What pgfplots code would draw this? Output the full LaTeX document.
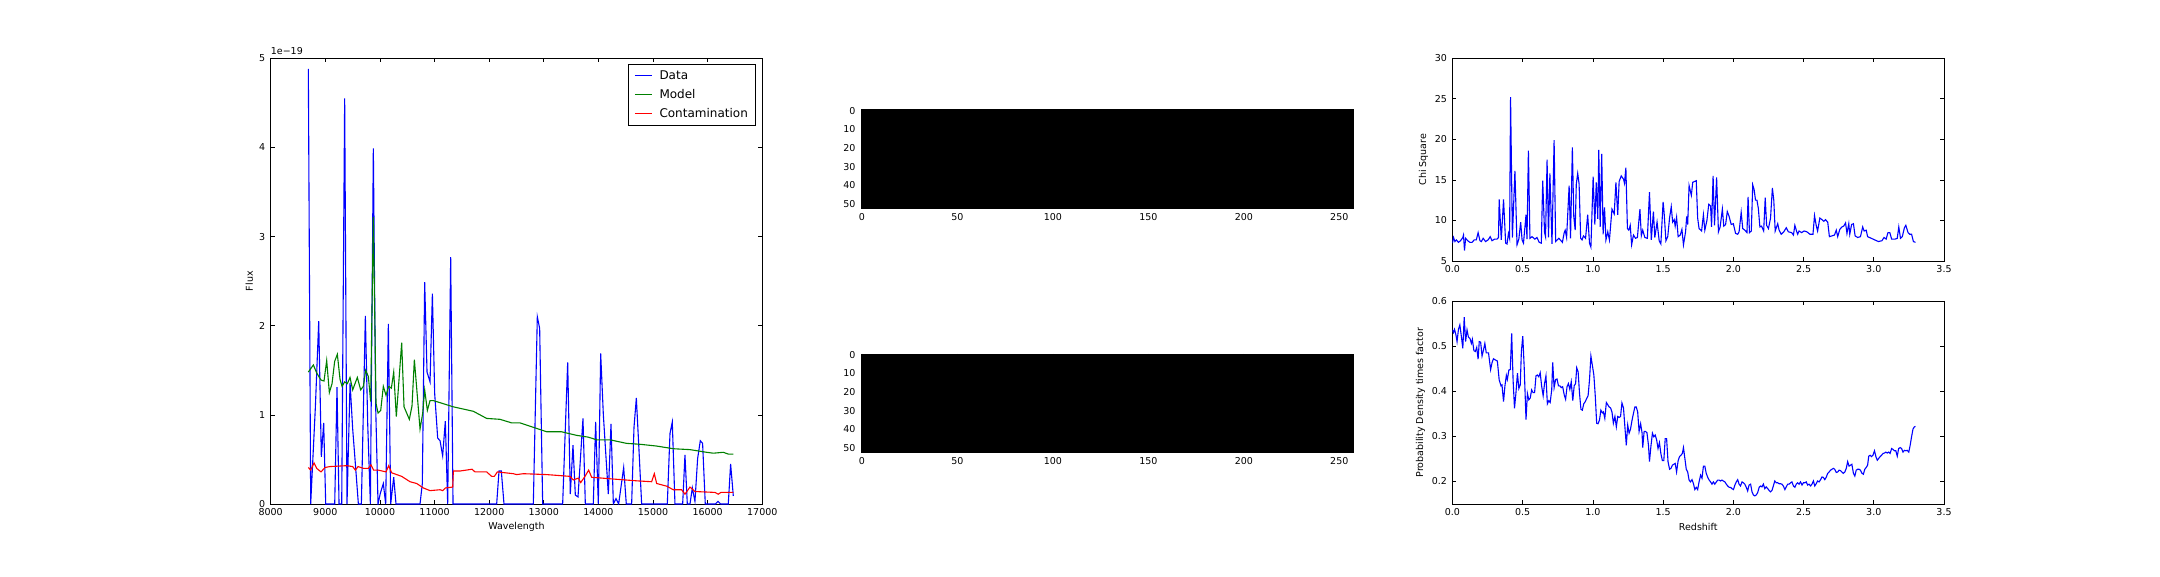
\documentclass[border=0pt]{standalone}
\usepackage{pgfplots}
\pgfplotsset{compat=1.18}
\usepackage{fontspec}
\setmainfont{DejaVu Sans}
\definecolor{mplblue}{rgb}{0,0,1}
\definecolor{mplgreen}{rgb}{0,0.5,0}
\definecolor{mplred}{rgb}{1,0,0}
\newcommand{\tf}{\fontsize{9.5}{11}\selectfont}
\pgfplotsset{
  mpl/.style={
    scale only axis,
    anchor=south west,
    axis line style={line width=0.9pt},
    tick align=inside,
    major tick length=4pt,
    every tick/.style={black, line width=0.7pt},
    /pgf/number format/assume math mode=true,
    ticklabel style={font=\tf},
    label style={font=\tf},
    xticklabel style={yshift=-1pt},
    yticklabel style={xshift=-2pt},
    every axis plot/.append style={line width=1.1pt},
  }
}
\begin{document}
\begin{tikzpicture}
\path[use as bounding box] (0,0) rectangle (2160pt,576pt);

% ---------------- Left: spectrum ----------------
\begin{axis}[mpl,
  at={(270.7pt,72pt)}, width=491.6pt, height=445.7pt,
  xmin=8000, xmax=17000, ymin=0, ymax=5,
  xtick={8000,9000,...,17000},
  ytick={0,1,2,3,4,5},
  scaled x ticks=false,
  xticklabel style={/pgf/number format/.cd, fixed, 1000 sep={}},
  xlabel={Wavelength}, ylabel={Flux},
  xlabel style={at={(axis description cs:0.5,-0.0516)}, anchor=center},
  ylabel style={at={(axis description cs:-0.0437,0.5)}, anchor=center},
  legend style={at={(1,1)}, anchor=north east, xshift=-6pt, yshift=-6pt,
    draw=black, line width=0.9pt, font=\fontsize{12}{14}\selectfont,
    row sep=4.5pt, inner xsep=6pt, inner ysep=4pt, cells={anchor=west},
    column sep=5pt},
  legend image code/.code={\draw[#1, line width=1.1pt] (0pt,0pt) -- (17pt,0pt);},
  after end axis/.code={\node[anchor=south west, inner sep=0pt, font=\tf] at (rel axis cs:0,1) [yshift=3pt] {1e−19};},
]
\addplot[mplblue] coordinates {
(8689,4.88) (8732,0) (8818,1.09) (8879,2.05) (8927,0.53) (8970,0.91) (9007,0)
(9172,0) (9214,1.31) (9251,0) (9300,0) (9354,4.55) (9397,0) (9453,1.36)
(9500,0.85) (9550,0.45) (9605,0) (9660,0) (9733,2.11) (9776,0.9) (9825,0)
(9879,3.99) (9922,1.09) (9965,0) (10007,0.12) (10062,0.23) (10105,0)
(10154,2.02) (10197,0) (10252,0.30) (10294,0) (10734,0) (10776,0.23)
(10819,2.49) (10862,1.48) (10917,1.37) (10960,2.36) (11002,1.24) (11057,0.74)
(11100,0.71) (11148,0.54) (11197,0.93) (11240,0) (11295,2.77) (11338,0)
(12137,0) (12180,0.37) (12222,0.37) (12271,0) (12808,0) (12881,2.10)
(12924,1.97) (12979,0) (13345,0) (13437,1.59) (13485,0.11) (13534,0.66)
(13577,0.10) (13626,0.08) (13717,0.96) (13760,0) (13906,0) (13949,0.92)
(13998,0) (14041,1.69) (14090,1.0) (14181,0.11) (14230,0.90) (14273,0)
(14321,0.06) (14370,0) (14462,0.41) (14510,0) (14608,0) (14651,0.86)
(14694,1.19) (14742,0.61) (14791,0) (15261,0) (15310,0.79) (15352,0.92)
(15401,0) (15542,0) (15584,0.55) (15627,0) (15676,0) (15719,0.18)
(15767,0.03) (15816,0.51) (15865,0.71) (15907,0.68) (15956,0) (16139,0)
(16188,0.03) (16237,0) (16377,0) (16420,0.45) (16469,0.09)
};
\addlegendentry{Data}
\addplot[mplgreen] coordinates {
(8689,1.48) (8781,1.56) (8842,1.47) (8921,1.39) (8976,1.38) (9025,1.61)
(9074,1.25) (9123,1.35) (9171,1.60) (9220,1.68) (9269,1.40) (9306,1.32)
(9354,1.37) (9403,1.35) (9452,1.42) (9501,1.28) (9586,1.42) (9647,1.28)
(9696,1.32) (9739,1.50) (9788,1.43) (9830,1.15) (9879,3.22) (9928,1.13)
(9965,1.02) (10014,1.05) (10062,1.32) (10111,1.22) (10160,1.32) (10209,1.30)
(10252,1.48) (10300,0.98) (10398,1.81) (10441,1.09) (10538,0.95) (10587,1.10)
(10630,1.62) (10734,0.84) (10783,1.02) (10819,1.28) (10868,1.05) (10917,1.16)
(10978,1.16) (11344,1.09) (11710,1.04) (11954,0.96) (12198,0.95) (12411,0.91)
(12564,0.91) (13052,0.81) (13327,0.81) (13601,0.77) (13815,0.75) (13968,0.72)
(14212,0.72) (14517,0.68) (14761,0.67) (15066,0.65) (15371,0.62) (15676,0.61)
(15980,0.58) (16103,0.57) (16286,0.58) (16377,0.56) (16469,0.56)
};
\addlegendentry{Model}
\addplot[mplred] coordinates {
(8689,0.41) (8732,0.38) (8793,0.46) (8842,0.40) (8921,0.36) (8995,0.41)
(9086,0.42) (9391,0.43) (9501,0.42) (9550,0.38) (9599,0.42) (9696,0.40)
(9788,0.40) (9836,0.44) (9885,0.38) (9971,0.38) (10111,0.36) (10160,0.43)
(10215,0.35) (10398,0.31) (10550,0.25) (10672,0.23) (10794,0.18) (10917,0.15)
(11100,0.16) (11148,0.15) (11197,0.18) (11332,0.19) (11344,0.37) (11466,0.37)
(11686,0.39) (11740,0.36) (11954,0.36) (12045,0.31) (12094,0.31) (12149,0.36)
(12442,0.34) (12503,0.33) (12625,0.34) (13052,0.33) (13479,0.31) (13540,0.27)
(13632,0.29) (13675,0.24) (13754,0.31) (13821,0.38) (13876,0.30) (14273,0.28)
(14700,0.26) (14974,0.25) (15023,0.34) (15066,0.23) (15249,0.20) (15371,0.16)
(15523,0.16) (15584,0.11) (15676,0.19) (15767,0.14) (16133,0.13) (16194,0.11)
(16243,0.13) (16469,0.13)
};
\addlegendentry{Contamination}
\end{axis}

% ---------------- Middle: images ----------------
\begin{axis}[mpl,
  at={(861pt,367.3pt)}, width=492.6pt, height=99pt,
  xmin=-0.5, xmax=257.5, ymin=-0.5, ymax=52.5, y dir=reverse,
  xtick={0,50,...,250}, ytick={0,10,...,50},
  axis on top,
]
\addplot[fill=black, draw=none] coordinates {(-0.5,-0.5) (257.5,-0.5) (257.5,52.5) (-0.5,52.5)};
\end{axis}
\begin{axis}[mpl,
  at={(861pt,123.5pt)}, width=492.6pt, height=98.5pt,
  xmin=-0.5, xmax=257.5, ymin=-0.5, ymax=52.5, y dir=reverse,
  xtick={0,50,...,250}, ytick={0,10,...,50},
  axis on top,
]
\addplot[fill=black, draw=none] coordinates {(-0.5,-0.5) (257.5,-0.5) (257.5,52.5) (-0.5,52.5)};
\end{axis}

% ---------------- Right top: chi square ----------------
\begin{axis}[mpl,
  at={(1452.4pt,315pt)}, width=491.6pt, height=202.7pt,
  xmin=0, xmax=3.5, ymin=5, ymax=30,
  xtick={0,0.5,...,3.5}, ytick={5,10,...,30},
  xticklabel style={/pgf/number format/.cd, fixed, fixed zerofill, precision=1},
  ylabel={Chi Square},
  ylabel style={at={(axis description cs:-0.059,0.5)}, anchor=center},
]
\addplot[mplblue] coordinates {
(0.000,7.2) (0.008,7.9) (0.018,7.4) (0.028,7.6) (0.043,7.3) (0.058,7.5)
(0.074,7.9) (0.079,8.2) (0.086,6.3) (0.094,7.8) (0.109,7.5) (0.125,7.3)
(0.140,7.3) (0.155,7.6) (0.170,7.6) (0.183,8.5) (0.196,7.5) (0.206,7.4)
(0.219,7.8) (0.236,7.4) (0.254,7.6) (0.269,8.0) (0.282,7.5) (0.300,7.7)
(0.318,7.7) (0.328,7.9)
(0.333,12.6) (0.348,7.6) (0.364,12.6) (0.379,7.2) (0.389,7.1) (0.399,8.4)
(0.407,7.8) (0.414,25.2) (0.427,7.9) (0.445,16.1) (0.460,7.0) (0.473,7.7)
(0.486,9.8) (0.496,7.6) (0.506,7.2) (0.524,10.7) (0.531,7.7) (0.541,18.6)
(0.552,7.8) (0.567,8.0) (0.587,7.7) (0.602,7.9) (0.618,7.3) (0.633,7.2)
(0.643,14.9) (0.656,8.5) (0.663,8.0) (0.674,17.5) (0.684,7.9) (0.694,15.8)
(0.709,7.1) (0.724,19.9) (0.735,7.4) (0.758,7.8) (0.783,7.3) (0.796,8.5)
(0.803,8.8) (0.813,7.9) (0.831,14.3) (0.841,7.8) (0.854,19.0) (0.864,10.5)
(0.874,8.8) (0.882,14.5) (0.892,15.8) (0.902,14.5) (0.913,7.8) (0.923,7.6)
(0.933,8.1) (0.948,7.8) (0.963,10.7) (0.976,7.2) (0.986,6.7) (1.002,15.4)
(1.014,9.5) (1.024,14.7) (1.035,10.2) (1.042,18.7) (1.052,9.2) (1.063,18.2)
(1.073,8.3) (1.083,11.6) (1.093,7.6) (1.106,8.6) (1.118,7.6) (1.136,11.4)
(1.152,10.8) (1.164,14.7) (1.177,10.7) (1.187,14.8) (1.202,15.5) (1.218,15.1)
(1.225,14.6) (1.235,16.5) (1.246,9.0) (1.256,8.8) (1.266,9.4) (1.276,7.0)
(1.289,8.2) (1.304,7.8) (1.317,7.9) (1.335,11.4) (1.345,8.1) (1.355,8.8)
(1.370,7.9) (1.388,7.8) (1.403,13.5) (1.416,7.6) (1.431,11.1) (1.441,7.9)
(1.457,9.8) (1.472,7.5) (1.484,7.1) (1.500,12.3) (1.507,11.0) (1.520,7.5)
(1.533,8.0) (1.546,10.3) (1.558,11.7) (1.568,9.8) (1.579,10.1) (1.586,9.3)
(1.596,10.4) (1.607,8.0) (1.622,8.2) (1.634,8.9) (1.645,7.0) (1.660,8.6)
(1.668,10.5) (1.675,9.5) (1.685,14.3) (1.701,13.1) (1.711,14.7) (1.723,14.8)
(1.736,14.9) (1.746,10.3) (1.756,9.0) (1.774,8.7) (1.787,10.7) (1.797,8.8)
(1.812,10.0) (1.825,12.0) (1.838,11.8) (1.845,9.2) (1.856,15.5) (1.866,9.4)
(1.881,15.3) (1.894,8.6) (1.906,9.2) (1.922,11.4) (1.932,9.3) (1.945,9.5)
(1.957,11.1) (1.970,10.5) (1.985,9.5) (2.000,9.6) (2.016,8.4) (2.031,8.3)
(2.041,8.6) (2.056,11.0) (2.067,9.0) (2.082,8.8) (2.097,8.5) (2.105,12.9)
(2.115,8.5) (2.128,8.7) (2.138,14.4) (2.148,13.8) (2.158,12.5) (2.168,12.5)
(2.178,11.5) (2.189,9.2) (2.201,9.3) (2.216,8.7) (2.227,12.8) (2.237,9.4)
(2.250,9.0) (2.265,10.3) (2.278,14.0) (2.288,12.5) (2.298,8.7) (2.316,9.6)
(2.326,8.8) (2.341,8.3) (2.359,8.6) (2.377,9.1) (2.392,8.6) (2.415,8.5)
(2.428,8.2) (2.438,9.4) (2.450,8.7) (2.458,8.3) (2.468,8.7) (2.486,8.5)
(2.504,8.7) (2.524,8.6) (2.545,8.3) (2.567,8.3) (2.578,10.6) (2.590,9.4)
(2.600,8.7) (2.616,10.3) (2.631,10.1) (2.644,9.9) (2.656,10.1) (2.672,9.8)
(2.684,8.0) (2.702,8.1) (2.720,8.2) (2.733,8.8) (2.743,8.0) (2.758,8.9)
(2.773,9.2) (2.786,9.3) (2.799,9.7) (2.809,8.4) (2.822,9.6) (2.829,8.3)
(2.842,9.5) (2.855,9.6) (2.867,8.1) (2.885,7.9) (2.905,8.0) (2.921,9.2)
(2.931,8.7) (2.946,8.8) (2.956,8.0) (2.982,7.8) (3.007,7.6) (3.033,7.4)
(3.058,7.5) (3.073,7.9) (3.088,7.7) (3.101,8.5) (3.114,8.5) (3.127,7.7)
(3.152,7.7) (3.167,7.8) (3.178,9.2) (3.190,7.8) (3.203,8.0) (3.218,9.1)
(3.228,9.4) (3.244,8.5) (3.256,8.3) (3.269,8.3) (3.282,7.4) (3.297,7.3)
};
\end{axis}

% ---------------- Right bottom: probability ----------------
\begin{axis}[mpl,
  at={(1452.4pt,72pt)}, width=491.6pt, height=203pt,
  xmin=0, xmax=3.5, ymin=0.15, ymax=0.6,
  xtick={0,0.5,...,3.5}, ytick={0.2,0.3,0.4,0.5,0.6},
  xticklabel style={/pgf/number format/.cd, fixed, fixed zerofill, precision=1},
  yticklabel style={/pgf/number format/.cd, fixed, fixed zerofill, precision=1},
  xlabel={Redshift}, ylabel={Probability Density times factor},
  xlabel style={at={(axis description cs:0.5,-0.1148)}, anchor=center},
  ylabel style={at={(axis description cs:-0.0651,0.5)}, anchor=center},
]
\addplot[mplblue] coordinates {
(0.000,0.536) (0.008,0.530) (0.015,0.537) (0.025,0.525) (0.033,0.510)
(0.043,0.537) (0.053,0.547) (0.064,0.521) (0.074,0.495) (0.084,0.564)
(0.094,0.510) (0.104,0.536) (0.114,0.520) (0.125,0.517) (0.135,0.506)
(0.142,0.515) (0.153,0.490) (0.163,0.488) (0.173,0.497) (0.183,0.471)
(0.191,0.510) (0.201,0.509) (0.211,0.478) (0.221,0.491) (0.231,0.506)
(0.241,0.485) (0.257,0.485) (0.272,0.448) (0.282,0.463) (0.292,0.472)
(0.302,0.470) (0.320,0.467) (0.333,0.425) (0.346,0.412) (0.353,0.414)
(0.364,0.377) (0.374,0.412) (0.384,0.435) (0.391,0.426) (0.402,0.447)
(0.412,0.448) (0.422,0.528) (0.432,0.425) (0.442,0.362) (0.452,0.395)
(0.463,0.440) (0.473,0.406) (0.483,0.414) (0.491,0.488) (0.501,0.522)
(0.511,0.454) (0.524,0.337) (0.534,0.395) (0.544,0.381) (0.554,0.385)
(0.564,0.403) (0.574,0.397) (0.585,0.397) (0.595,0.434) (0.605,0.436)
(0.615,0.432) (0.625,0.441) (0.635,0.412) (0.646,0.390) (0.656,0.417)
(0.666,0.434) (0.676,0.372) (0.686,0.379) (0.696,0.375) (0.707,0.403)
(0.714,0.464) (0.724,0.408) (0.735,0.426) (0.745,0.427) (0.755,0.412)
(0.765,0.412) (0.775,0.408) (0.785,0.410) (0.796,0.392) (0.806,0.382)
(0.816,0.410) (0.826,0.417) (0.836,0.404) (0.846,0.421) (0.857,0.379)
(0.867,0.412) (0.877,0.417) (0.885,0.452) (0.895,0.443) (0.905,0.395)
(0.915,0.360) (0.925,0.358) (0.935,0.372) (0.946,0.377) (0.956,0.384)
(0.966,0.390) (0.976,0.425) (0.986,0.478) (0.996,0.458) (1.007,0.436)
(1.017,0.390) (1.027,0.329) (1.037,0.328) (1.047,0.336) (1.057,0.358)
(1.068,0.352) (1.075,0.354) (1.085,0.340) (1.096,0.375) (1.106,0.370)
(1.116,0.365) (1.126,0.363) (1.136,0.354) (1.146,0.329) (1.157,0.344)
(1.167,0.321) (1.177,0.344) (1.187,0.342) (1.197,0.344) (1.207,0.374)
(1.218,0.363) (1.228,0.321) (1.238,0.280) (1.248,0.325) (1.258,0.307)
(1.268,0.316) (1.279,0.336) (1.289,0.351) (1.299,0.365) (1.309,0.365)
(1.319,0.354) (1.329,0.311) (1.340,0.328) (1.350,0.308) (1.355,0.275)
(1.365,0.311) (1.375,0.311) (1.385,0.308) (1.396,0.280) (1.403,0.244)
(1.413,0.277) (1.424,0.307) (1.434,0.299) (1.444,0.303) (1.454,0.292)
(1.464,0.273) (1.474,0.286) (1.484,0.262) (1.495,0.246) (1.505,0.246)
(1.515,0.295) (1.525,0.295) (1.535,0.244) (1.546,0.227) (1.556,0.229)
(1.566,0.236) (1.576,0.238) (1.586,0.240) (1.596,0.221) (1.607,0.246)
(1.617,0.255) (1.627,0.258) (1.637,0.262) (1.645,0.275) (1.655,0.251)
(1.665,0.227) (1.675,0.221) (1.685,0.203) (1.695,0.199) (1.706,0.204)
(1.716,0.195) (1.726,0.182) (1.736,0.187) (1.746,0.182) (1.756,0.199)
(1.767,0.214) (1.777,0.207) (1.787,0.234) (1.797,0.234) (1.807,0.218)
(1.818,0.209) (1.828,0.203) (1.838,0.199) (1.848,0.194) (1.858,0.199)
(1.868,0.194) (1.879,0.199) (1.889,0.203) (1.899,0.203) (1.909,0.201)
(1.919,0.203) (1.929,0.201) (1.940,0.199) (1.950,0.194) (1.960,0.190)
(1.970,0.187) (1.980,0.187) (1.990,0.184) (2.001,0.182) (2.011,0.192)
(2.021,0.199) (2.031,0.204) (2.041,0.194) (2.051,0.190) (2.062,0.199)
(2.072,0.197) (2.082,0.194) (2.092,0.187) (2.102,0.179) (2.112,0.192)
(2.123,0.194) (2.133,0.177) (2.143,0.170) (2.153,0.168) (2.163,0.170)
(2.173,0.175) (2.184,0.187) (2.194,0.190) (2.204,0.188) (2.214,0.194)
(2.224,0.184) (2.234,0.188) (2.245,0.184) (2.255,0.180) (2.265,0.177)
(2.275,0.180) (2.285,0.190) (2.295,0.201) (2.306,0.197) (2.316,0.197)
(2.326,0.195) (2.336,0.195) (2.346,0.194) (2.356,0.190) (2.367,0.182)
(2.377,0.188) (2.387,0.194) (2.397,0.194) (2.407,0.197) (2.417,0.199)
(2.428,0.190) (2.438,0.187) (2.448,0.194) (2.458,0.197) (2.468,0.194)
(2.478,0.199) (2.489,0.192) (2.499,0.197) (2.509,0.197) (2.519,0.199)
(2.529,0.192) (2.539,0.194) (2.550,0.190) (2.560,0.194) (2.570,0.201)
(2.580,0.190) (2.590,0.195) (2.600,0.201) (2.611,0.199) (2.621,0.204)
(2.631,0.210) (2.641,0.209) (2.651,0.204) (2.661,0.209) (2.672,0.218)
(2.682,0.221) (2.692,0.225) (2.702,0.227) (2.712,0.229) (2.722,0.227)
(2.733,0.220) (2.743,0.221) (2.753,0.225) (2.763,0.224) (2.773,0.221)
(2.783,0.218) (2.794,0.221) (2.804,0.229) (2.814,0.244) (2.824,0.234)
(2.834,0.236) (2.844,0.238) (2.855,0.218) (2.865,0.212) (2.875,0.225)
(2.885,0.227) (2.895,0.227) (2.905,0.225) (2.916,0.218) (2.926,0.216)
(2.936,0.227) (2.946,0.231) (2.956,0.236) (2.964,0.256) (2.974,0.258)
(2.984,0.255) (2.994,0.258) (3.005,0.268) (3.015,0.255) (3.025,0.247)
(3.035,0.251) (3.045,0.255) (3.055,0.258) (3.066,0.262) (3.076,0.263)
(3.086,0.265) (3.096,0.263) (3.106,0.265) (3.116,0.262) (3.127,0.273)
(3.137,0.271) (3.147,0.268) (3.157,0.268) (3.167,0.256) (3.177,0.273)
(3.188,0.275) (3.198,0.273) (3.208,0.265) (3.218,0.269) (3.228,0.268)
(3.238,0.269) (3.249,0.265) (3.259,0.280) (3.269,0.299) (3.279,0.316)
(3.289,0.321) (3.297,0.322)
};
\end{axis}
\end{tikzpicture}
\end{document}
